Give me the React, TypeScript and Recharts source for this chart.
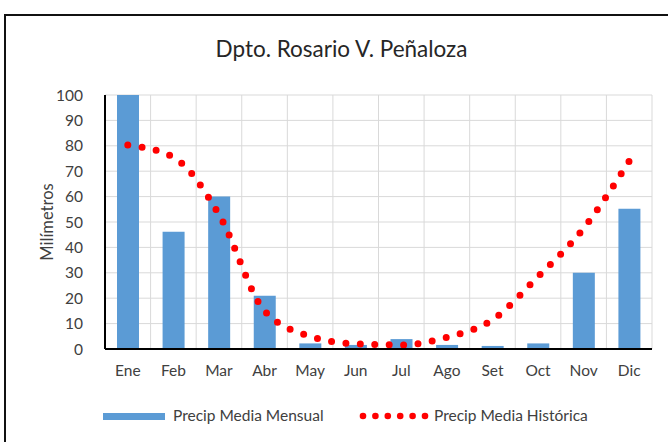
import React from 'react';
import { ComposedChart, Bar, Line, XAxis, YAxis, CartesianGrid, Legend } from 'recharts';

const months = ['Ene', 'Feb', 'Mar', 'Abr', 'May', 'Jun', 'Jul', 'Ago', 'Set', 'Oct', 'Nov', 'Dic'];
const mensual = [100, 46.2, 60, 21, 2.2, 1.6, 3.9, 1.6, 1.2, 2.2, 30, 55.2];
const historica = [80.3, 75.5, 53, 15, 5, 2, 1.6, 4.6, 11.5, 28.5, 47.5, 74];
const yTicks = [0, 10, 20, 30, 40, 50, 60, 70, 80, 90, 100];

const data = months.map((m, i) => ({ month: m, mensual: mensual[i], historica: historica[i] }));

const FONT = 'Lato, "Open Sans", sans-serif';
const TEXT = '#404040';

const renderLegend = () => (
  <div style={{ fontFamily: FONT, fontSize: 15.5, color: TEXT, position: 'relative', height: 28 }}>
    <div style={{ position: 'absolute', left: 103, top: 13, width: 62, height: 7, background: '#5b9bd5' }} />
    <div style={{ position: 'absolute', left: 173, top: 6, whiteSpace: 'nowrap' }}>Precip Media Mensual</div>
    <svg style={{ position: 'absolute', left: 358, top: 9 }} width={72} height={14}>
      {[0, 1, 2, 3, 4, 5].map((i) => (
        <circle key={i} cx={5 + i * 12.4} cy={7} r={3.3} fill="#ff0000" />
      ))}
    </svg>
    <div style={{ position: 'absolute', left: 434, top: 6, whiteSpace: 'nowrap' }}>Precip Media Histórica</div>
  </div>
);

export default function App() {
  return (
    <div style={{ position: 'absolute', left: 0, top: 0, width: 668, height: 442, overflow: 'hidden', background: '#fff' }}>
      <div style={{ position: 'absolute', left: 4, top: 14, width: 700, height: 500, borderLeft: '2px solid #111', borderTop: '2px solid #111' }} />
      <div style={{ position: 'absolute', left: 0, top: 35, width: 683, textAlign: 'center', fontFamily: FONT, fontSize: 22.5, color: '#262626' }}>
        Dpto. Rosario V. Peñaloza
      </div>
      <div style={{ position: 'absolute', left: 0, top: 0 }}>
        <ComposedChart width={668} height={442} data={data} margin={{ top: 95, right: 16, bottom: 63, left: 45 }} barCategoryGap={0}>
          <CartesianGrid
            stroke="#d9d9d9"
            strokeWidth={1}
            verticalCoordinatesGenerator={({ offset }: any) =>
              Array.from({ length: 13 }, (_, i) => offset.left + (i * offset.width) / 12)
            }
          />
          <XAxis
            dataKey="month"
            axisLine={{ stroke: '#000', strokeWidth: 2 }}
            tickLine={false}
            tick={{ fill: TEXT, fontSize: 15.5, fontFamily: FONT }}
            tickMargin={10}
            interval={0}
          />
          <YAxis
            domain={[0, 100]}
            ticks={yTicks}
            width={60}
            axisLine={{ stroke: '#000', strokeWidth: 2 }}
            tickLine={false}
            tick={{ fill: TEXT, fontSize: 15.5, fontFamily: FONT }}
            tickMargin={16}
            label={{ value: 'Milímetros', angle: -90, position: 'insideLeft', offset: 2, style: { fill: TEXT, fontSize: 16.5, fontFamily: FONT, textAnchor: 'middle' } }}
          />
          <Bar dataKey="mensual" name="Precip Media Mensual" fill="#5b9bd5" barSize={22} isAnimationActive={false} />
          <Line
            dataKey="historica"
            name="Precip Media Histórica"
            type="monotone"
            stroke="#ff0000"
            strokeWidth={7}
            pathLength={47.03}
            strokeDasharray="0 1"
            strokeLinecap="round"
            dot={false}
            activeDot={false}
            isAnimationActive={false}
          />
          <Legend verticalAlign="middle" align="center" layout="horizontal" content={renderLegend} wrapperStyle={{ top: 400, left: 0, width: 668 }} />
        </ComposedChart>
      </div>
    </div>
  );
}
